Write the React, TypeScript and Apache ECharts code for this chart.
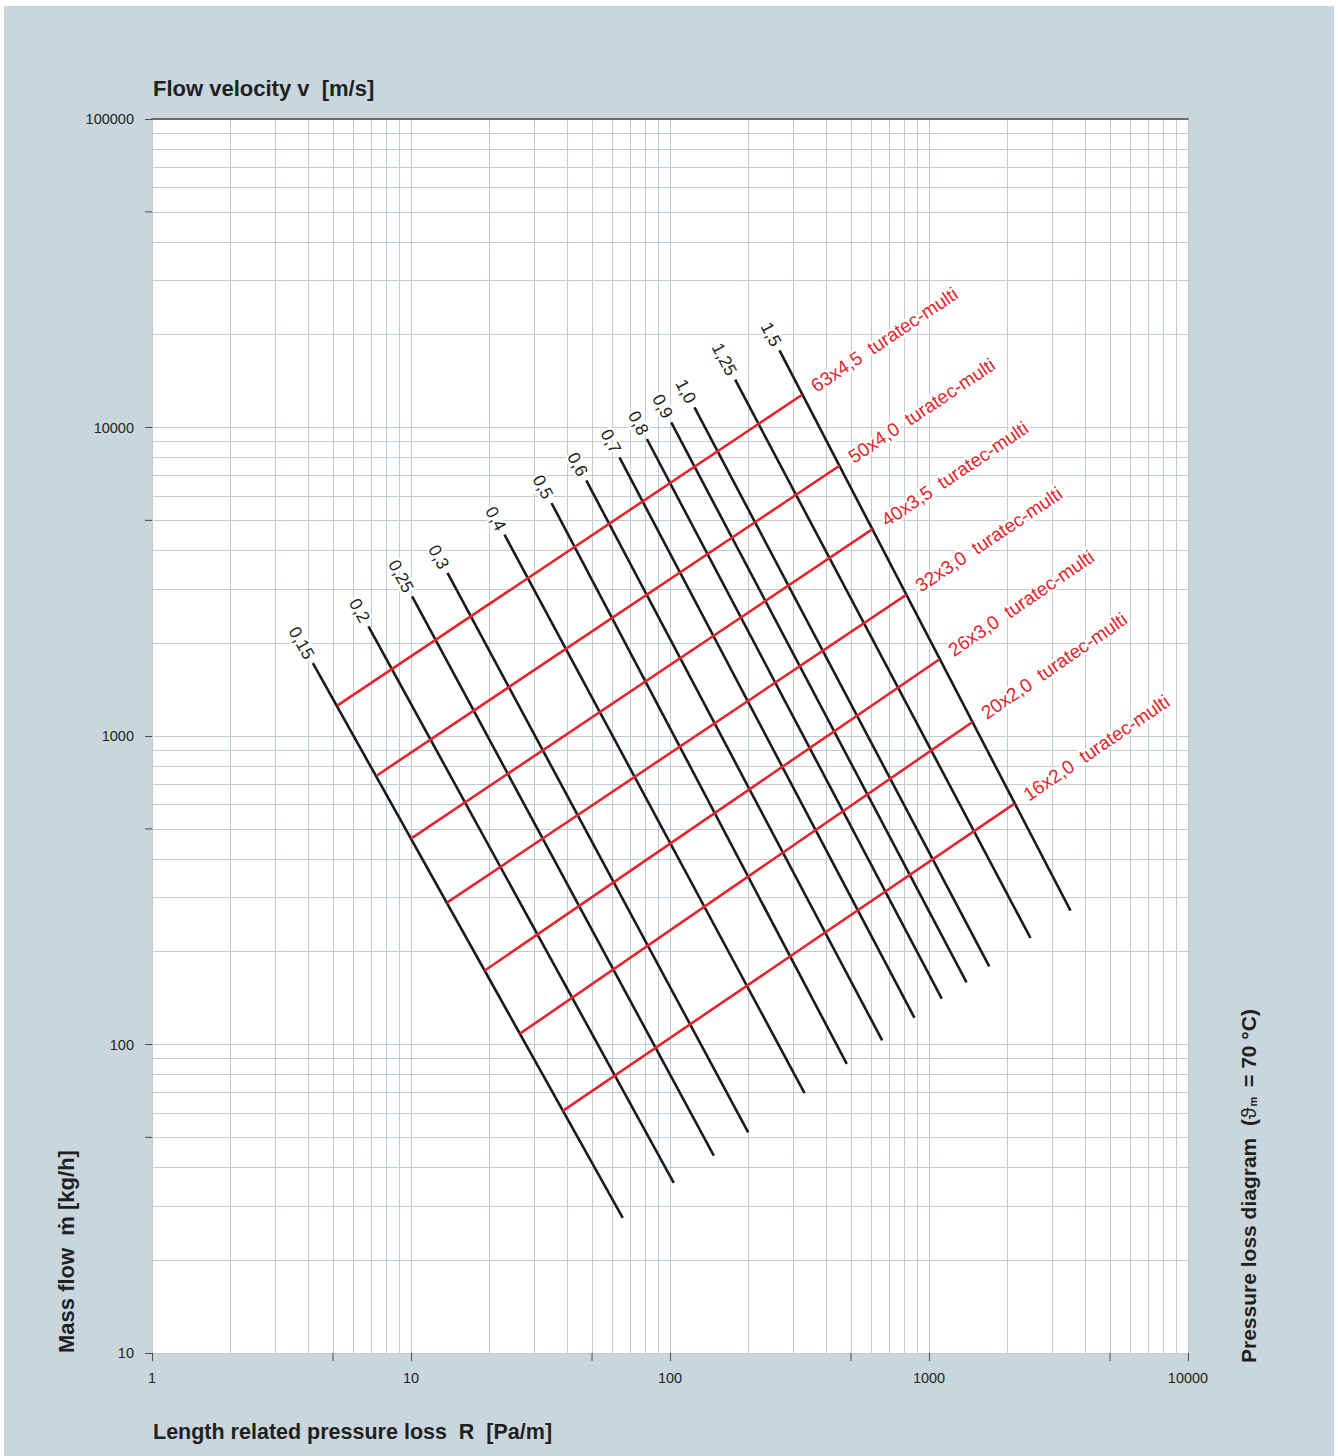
import React, { useEffect, useRef } from 'react';
import * as echarts from 'echarts';

// Flow velocity lines [m/s]: start (top-left) and end (bottom-right) points [R (Pa/m), mass flow (kg/h)]
const velocityLabels = ['0,15', '0,2', '0,25', '0,3', '0,4', '0,5', '0,6', '0,7', '0,8', '0,9', '1,0', '1,25', '1,5'];
const velocityStart: [number, number][] = [
  [4.18, 1724], [6.85, 2266], [10.1, 2835], [13.83, 3376], [22.96, 4493], [34.87, 5692], [47.5, 6738],
  [63.8, 8000], [81.4, 9177], [101.1, 10387], [124.3, 11620], [178.5, 14286], [264.7, 17780],
];
const velocityEnd: [number, number][] = [
  [65.7, 27.4], [103.4, 35.6], [147.6, 43.6], [200.4, 51.9], [330.7, 69.6], [481.4, 86.5], [659.6, 103.1],
  [879, 121.9], [1120, 140.8], [1396, 159.0], [1708, 179.1], [2465, 221.4], [3518, 271.5],
];

// Pipe dimension lines: start (on 0,15 line) and end (on 1,5 line)
const pipeLabels = ['63x4,5', '50x4,0', '40x3,5', '32x3,0', '26x3,0', '20x2,0', '16x2,0'];
const pipeSuffix = 'turatec-multi';
const pipeStart: [number, number][] = [
  [5.19, 1254], [7.36, 743.5], [10.0, 464.7], [13.77, 288.2], [19.22, 173.4], [26.35, 108.4], [38.46, 60.8],
];
const pipeEnd: [number, number][] = [
  [323.9, 12772], [451.2, 7518], [605.2, 4681], [818.8, 2871], [1098, 1774], [1472, 1110], [2138, 603.4],
];

// Axes
const xMin = 1, xMax = 10000;
const yMin = 10, yMax = 100000;
const xHalfTicks = [5, 50, 500, 5000];
const yHalfTicks = [50, 500, 5000, 50000];

const FONT = '"Liberation Sans", Arial, "Noto Sans", sans-serif';
const TEXT = '#231f20';
const RED = '#e5232b';
const GRID = '#bccbd5';

export default function App() {
  const ref = useRef<HTMLDivElement>(null);

  useEffect(() => {
    const chart = echarts.init(ref.current!, null, { renderer: 'svg' });

    const gridX: number[] = [];
    for (const d of [1, 10, 100, 1000]) for (let k = 1; k <= 9; k++) gridX.push(k * d);
    gridX.push(10000);
    const gridY: number[] = [];
    for (const d of [10, 100, 1000, 10000]) for (let k = 1; k <= 9; k++) gridY.push(k * d);
    gridY.push(100000);

    const series: any[] = [
      {
        type: 'line',
        data: [],
        z: 0,
        silent: true,
        markLine: {
          silent: true,
          z: 0,
          symbol: ['none', 'none'],
          label: { show: false },
          animation: false,
          lineStyle: { color: GRID, width: 1, type: 'solid' },
          emphasis: { disabled: true },
          data: [
            ...gridX.map((v) => ({ xAxis: v })),
            ...gridY.map((v) => ({ yAxis: v })),
          ],
        },
      },
      ...velocityLabels.map((name, i) => ({
        type: 'line',
        name: 'v ' + name,
        data: [velocityStart[i], velocityEnd[i]],
        symbol: 'none',
        z: 3,
        silent: true,
        lineStyle: { color: '#1c1a1b', width: 2.6 },
      })),
      ...pipeLabels.map((name, i) => ({
        type: 'line',
        name,
        data: [pipeStart[i], pipeEnd[i]],
        symbol: 'none',
        z: 5,
        silent: true,
        lineStyle: { color: RED, width: 2.6 },
      })),
    ];

    const option: any = {
      animation: false,
      backgroundColor: 'transparent',
      grid: {
        left: 152, top: 119, width: 1036, height: 1234,
        show: true, backgroundColor: '#ffffff', borderWidth: 0,
      },
      xAxis: [
        {
          type: 'log', logBase: 10, min: xMin, max: xMax, position: 'bottom',
          axisLine: { show: true, lineStyle: { color: GRID, width: 1 } },
          axisTick: { show: true, length: 8, lineStyle: { color: '#4a4a4a', width: 1 } },
          axisLabel: {
            show: true, margin: 17, fontSize: 14.5, fontFamily: FONT, color: TEXT,
            formatter: (v: number) => String(Math.round(v)),
          },
          splitLine: { show: false },
          minorTick: { show: false },
        },
        {
          type: 'log', logBase: 10, min: xMin, max: xMax, position: 'top',
          axisLine: { show: true, lineStyle: { color: '#666e73', width: 1.8 } },
          axisTick: { show: false }, axisLabel: { show: false }, splitLine: { show: false },
        },
      ],
      yAxis: {
        type: 'log', logBase: 10, min: yMin, max: yMax,
        axisLine: { show: true, lineStyle: { color: GRID, width: 1 } },
        axisTick: { show: true, length: 7, lineStyle: { color: '#4a4a4a', width: 1 } },
        axisLabel: {
          show: true, margin: 18, fontSize: 14.5, fontFamily: FONT, color: TEXT,
          formatter: (v: number) => String(Math.round(v)),
        },
        splitLine: { show: false },
      },
      series,
    };

    chart.setOption(option);

    const px = (p: [number, number]) => chart.convertToPixel({ xAxisIndex: 0, yAxisIndex: 0 }, p) as number[];
    const g: any[] = [];

    // half-decade ticks
    const x0 = px([xMin, yMin]);
    xHalfTicks.forEach((v) => {
      const p = px([v, yMin]);
      g.push({ type: 'line', z: 20, shape: { x1: p[0], y1: x0[1], x2: p[0], y2: x0[1] + 8 }, style: { stroke: '#4a4a4a', lineWidth: 1 } });
    });
    yHalfTicks.forEach((v) => {
      const p = px([xMin, v]);
      g.push({ type: 'line', z: 20, shape: { x1: x0[0] - 7, y1: p[1], x2: x0[0], y2: p[1] }, style: { stroke: '#4a4a4a', lineWidth: 1 } });
    });

    const addText = (text: string, x: number, y: number, rotation: number, align: string, fill: string, size: number) => {
      const base = {
        text, fontSize: size, fontFamily: FONT,
        align, verticalAlign: 'middle', textAlign: align, textVerticalAlign: 'middle',
      };
      g.push({ type: 'text', z: 20, x, y, rotation, silent: true, style: { ...base, fill: '#ffffff', stroke: '#ffffff', lineWidth: 5, lineJoin: 'round' } });
      g.push({ type: 'text', z: 21, x, y, rotation, silent: true, style: { ...base, fill } });
    };

    // velocity labels
    velocityLabels.forEach((lab, i) => {
      const a = px(velocityStart[i]);
      const b = px(velocityEnd[i]);
      const dx = b[0] - a[0], dy = b[1] - a[1];
      const len = Math.hypot(dx, dy);
      const ux = dx / len, uy = dy / len;
      const gap = 6;
      addText(lab, a[0] - ux * gap, a[1] - uy * gap, -Math.atan2(dy, dx), 'right', TEXT, 17.5);
    });

    // pipe labels
    pipeLabels.forEach((lab, i) => {
      const a = px(pipeStart[i]);
      const b = px(pipeEnd[i]);
      const dx = b[0] - a[0], dy = b[1] - a[1];
      const len = Math.hypot(dx, dy);
      const ux = dx / len, uy = dy / len;
      const gap = 13;
      addText(lab + '  ' + pipeSuffix, b[0] + ux * gap, b[1] + uy * gap, -Math.atan2(dy, dx), 'left', RED, 19);
    });

    // titles
    const titleStyle = { fontSize: 21.5, fontWeight: 'bold', fontFamily: FONT, fill: TEXT };
    g.push({ type: 'text', z: 20, x: 153, y: 88, style: { ...titleStyle, fontSize: 22, text: 'Flow velocity v  [m/s]', align: 'left', verticalAlign: 'middle', textAlign: 'left', textVerticalAlign: 'middle' } });
    g.push({ type: 'text', z: 20, x: 153, y: 1432, style: { ...titleStyle, text: 'Length related pressure loss  R  [Pa/m]', align: 'left', verticalAlign: 'middle', textAlign: 'left', textVerticalAlign: 'middle' } });
    g.push({ type: 'text', z: 20, x: 66, y: 1353, rotation: Math.PI / 2, style: { ...titleStyle, fontSize: 22, text: 'Mass flow  ṁ [kg/h]', align: 'left', verticalAlign: 'middle', textAlign: 'left', textVerticalAlign: 'middle' } });
    g.push({
      type: 'text', z: 20, x: 1248, y: 1363, rotation: Math.PI / 2,
      style: {
        text: '{a|Pressure loss diagram  (}{t|ϑ}{s|m}{a| = 70 °C)}',
        align: 'left', verticalAlign: 'middle', textAlign: 'left', textVerticalAlign: 'middle',
        fontFamily: FONT, fontSize: 21, fill: TEXT,
        rich: {
          a: { fontSize: 21, fontWeight: 'bold', fontFamily: FONT, fill: TEXT },
          t: { fontSize: 21, fontWeight: 'normal', fontFamily: FONT, fill: TEXT },
          s: { fontSize: 11, fontWeight: 'bold', fontFamily: FONT, fill: TEXT, verticalAlign: 'bottom', padding: [0, 4, 0, 1] },
        },
      },
    });

    chart.setOption({ graphic: g });

    return () => chart.dispose();
  }, []);

  return (
    <div style={{ position: 'absolute', left: 0, top: 0, width: 1338, height: 1456, background: '#ffffff', overflow: 'hidden' }}>
      <div style={{ position: 'absolute', left: 4, top: 6, width: 1330, height: 1450, background: '#c9d6de' }} />
      <div ref={ref} style={{ position: 'absolute', left: 0, top: 0, width: 1338, height: 1456 }} />
    </div>
  );
}
